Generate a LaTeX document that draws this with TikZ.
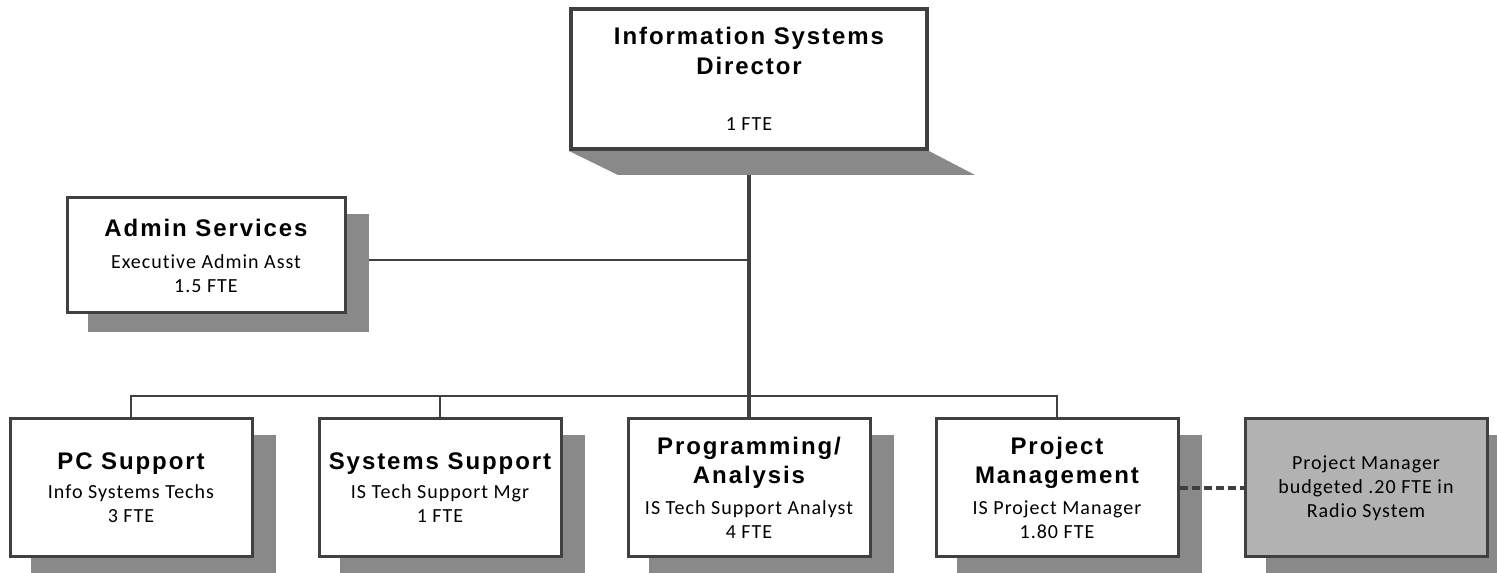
\documentclass[tikz,border=0pt]{standalone}
\usepackage{fontspec}
\setmainfont{Carlito}
\newfontfamily\headfont[LetterSpace=8]{Liberation Sans}
\newfontfamily\subfont[LetterSpace=5,Ligatures={NoCommon}]{Carlito}
\newcommand\hd[1]{{\headfont\bfseries\fontsize{24}{30}\selectfont #1}}
\definecolor{edgecol}{HTML}{404040}
\definecolor{shadcol}{HTML}{898989}
\definecolor{greyfill}{HTML}{B2B2B2}
\pgfdeclarelayer{bg}
\pgfdeclarelayer{shad}
\pgfsetlayers{bg,shad,main}
\tikzset{
  orgbox/.style={draw=edgecol, line width=3pt, fill=white, align=center, inner sep=0pt,
    font=\subfont\fontsize{20}{24}\selectfont, text=black},
  lowbox/.style={orgbox, minimum width=242pt, minimum height=138pt},
  link/.style={draw=edgecol, line width=2.5pt},
  shadowfill/.style={fill=shadcol, draw=none},
}
\newcommand\boxshadow[1]{%
  \begin{pgfonlayer}{shad}
    \fill[shadowfill] ([shift={(22pt,-18pt)}]#1.south west) rectangle ([shift={(22pt,-18pt)}]#1.north east);
  \end{pgfonlayer}}
\begin{document}
\begin{tikzpicture}[x=1pt,y=1pt]
\useasboundingbox (0,0) rectangle (1497,573);
% nodes
\node[orgbox, line width=4pt, minimum width=356pt, minimum height=140pt] (top) at (749,494)
  {\hd{Information Systems}\\[6pt]\hd{Director}\\[32pt]1 FTE};
\node[orgbox, minimum width=278pt, minimum height=115pt] (admin) at (206,317.5)
  {\hd{Admin Services}\\[8pt]Executive Admin Asst\\1.5 FTE};
\node[lowbox] (pc) at (131,85) {\hd{PC Support}\\[5pt]Info Systems Techs\\3 FTE};
\node[lowbox] (ss) at (440,85) {\hd{Systems Support}\\[5pt]IS Tech Support Mgr\\1 FTE};
\node[lowbox] (pa) at (749,85) {\hd{Programming/}\\[5pt]\hd{Analysis}\\[7pt]IS Tech Support Analyst\\4 FTE};
\node[lowbox] (pm) at (1057,85) {\hd{Project}\\[5pt]\hd{Management}\\[7pt]IS Project Manager\\1.80 FTE};
\node[lowbox, fill=greyfill] (radio) at (1366,85) {Project Manager\\budgeted .20 FTE in\\Radio System};
\coordinate (bus) at (749,177);
% shadows
\begin{pgfonlayer}{shad}
  \fill[shadowfill] (top.south west) -- (top.south east) -- ([shift={(46pt,-24pt)}]top.south east)
    -- ([shift={(49pt,-24pt)}]top.south west) -- cycle;
\end{pgfonlayer}
\boxshadow{admin}
\boxshadow{pc}
\boxshadow{ss}
\boxshadow{pa}
\boxshadow{pm}
\boxshadow{radio}
% connectors
\begin{pgfonlayer}{bg}
  \draw[link, line width=3.5pt] (top.south) -- (pa.north);
  \draw[link] ([yshift=-4.5pt]admin.east) -- ([yshift=-4.5pt]admin.east -| top.south);
  \draw[link] (pc.north) -- (pc.north |- bus) -- (pm.north |- bus) -- (pm.north);
  \draw[link] (ss.north) -- (ss.north |- bus);
\end{pgfonlayer}
\draw[draw=edgecol, line width=4pt, dash pattern=on 8pt off 4pt] (pm.east) -- (radio.west);
\end{tikzpicture}
\end{document}
